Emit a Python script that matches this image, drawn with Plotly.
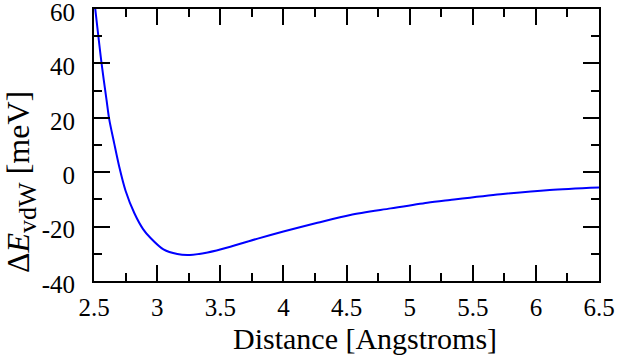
import plotly.graph_objects as go

distance = [2.51, 2.56, 2.60, 2.62, 2.66, 2.70, 2.75, 2.82, 2.89, 2.95, 3.05, 3.16, 3.26,
            3.40, 3.58, 3.79, 4.00, 4.27, 4.53, 4.85, 5.14, 5.32, 5.72, 6.11, 6.50]
energy = [60, 40, 26.3, 19.6, 10.6, 2.0, -6.8, -15.1, -21.0, -24.3, -28.4, -30.1, -30.4,
          -29.5, -27.4, -24.5, -21.8, -18.6, -15.7, -13.3, -11.2, -10.2, -8.1, -6.5, -5.6]

x_ticks = [2.5, 3, 3.5, 4, 4.5, 5, 5.5, 6, 6.5]
x_tick_labels = ["2.5", "3", "3.5", "4", "4.5", "5", "5.5", "6", "6.5"]
y_ticks = [-40, -20, 0, 20, 40, 60]
y_tick_labels = ["-40", "-20", "0", "20", "40", "60"]

x_title = "Distance [Angstroms]"
y_title = "Δ<i>E</i><sub><span style='font-size:26px'>vdW</span></sub> [meV]"

fig = go.Figure()
fig.add_trace(go.Scatter(x=distance, y=energy, mode="lines",
                         line=dict(color="#0000ff", width=2, shape="spline", smoothing=0.8),
                         showlegend=False, cliponaxis=True, hoverinfo="skip"))

family = "Liberation Serif, Times New Roman, serif"
tick_font = dict(family=family, size=25, color="black")
axis_common = dict(showgrid=False, zeroline=False, showline=True, linecolor="black", linewidth=2,
                   mirror="ticks", ticks="inside", ticklen=16, tickwidth=2, tickcolor="black",
                   tickfont=tick_font, automargin=False, ticklabeloverflow="allow")

fig.update_xaxes(range=[2.5, 6.5], tickvals=x_ticks, ticktext=x_tick_labels,
                 minor=dict(dtick=0.25, ticks="inside", ticklen=8, tickwidth=2, tickcolor="black"),
                 ticklabelstandoff=3, **axis_common)
fig.update_yaxes(range=[-40, 60], tickvals=y_ticks, ticktext=y_tick_labels,
                 minor=dict(dtick=10, ticks="inside", ticklen=8, tickwidth=2, tickcolor="black"),
                 ticklabelstandoff=12, ticklabelshift=3, **axis_common)

fig.add_annotation(text=x_title, xref="paper", yref="paper", x=(365 - 94) / 505, y=(281 - 338) / 272,
                   xanchor="center", yanchor="middle", showarrow=False,
                   font=dict(family=family, size=30, color="black"))
fig.add_annotation(text=y_title, xref="paper", yref="paper", x=(21 - 94) / 505, y=(281 - 182) / 272,
                   xanchor="center", yanchor="middle", textangle=-90, showarrow=False,
                   font=dict(family=family, size=32, color="black"))

fig.update_layout(width=620, height=356, margin=dict(l=94, r=21, t=9, b=75),
                  plot_bgcolor="white", paper_bgcolor="white", font=tick_font)

fig.write_html("out.html", config={"displayModeBar": False},
               post_script="document.body.style.margin='0';")
